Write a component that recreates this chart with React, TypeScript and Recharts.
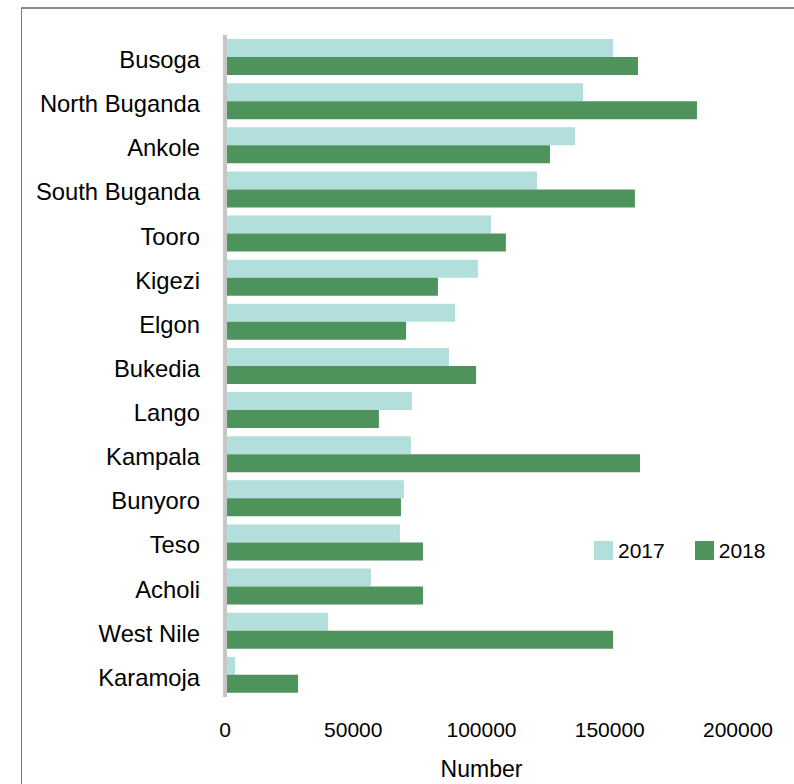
import React from 'react';
import { BarChart, Bar, XAxis, YAxis, Legend } from 'recharts';

const regions = [
  'Busoga', 'North Buganda', 'Ankole', 'South Buganda', 'Tooro', 'Kigezi', 'Elgon', 'Bukedia',
  'Lango', 'Kampala', 'Bunyoro', 'Teso', 'Acholi', 'West Nile', 'Karamoja',
];
const values2017 = [
  151300, 139600, 136500, 121600, 103700, 98600, 89700, 87300,
  72900, 72500, 69800, 68200, 56900, 40200, 3900,
];
const values2018 = [
  161000, 184000, 126700, 159800, 109500, 83000, 70600, 97900,
  60000, 161800, 68600, 77200, 77200, 151300, 28500,
];
const xTicks = [0, 50000, 100000, 150000, 200000];

const data = regions.map((region, i) => ({
  region,
  y2017: values2017[i],
  y2018: values2018[i],
}));

const font = 'Liberation Sans, Arial, sans-serif';

const RegionTick = (props: any) => {
  const { x, y, payload } = props;
  return (
    <text x={x} y={y + 2.5} dy="0.355em" textAnchor="end" fontSize={23.8} fill="#000" fontFamily={font}>
      {payload.value}
    </text>
  );
};

const renderLegend = (props: any) => {
  const { payload } = props;
  return (
    <div style={{ display: 'flex', alignItems: 'center', height: 19 }}>
      {payload.map((p: any, i: number) => (
        <div key={p.value} style={{ display: 'flex', alignItems: 'center', marginRight: i === 0 ? 30 : 0 }}>
          <span style={{ display: 'inline-block', width: 19, height: 19, background: p.color, marginRight: 5 }} />
          <span style={{ fontSize: 21, color: '#000', fontFamily: font }}>{p.value}</span>
        </div>
      ))}
    </div>
  );
};

const App: React.FC = () => {
  return (
    <div style={{ position: 'absolute', left: 0, top: 0, width: 794, height: 784, background: '#fff', overflow: 'hidden' }}>
      <div
        style={{
          position: 'absolute', left: 21, top: 7, width: 900, height: 900,
          borderLeft: '1px solid #7a7a7a', borderTop: '2px solid #8c8c8c',
        }}
      />
      <div style={{ position: 'absolute', left: 0, top: 0 }}>
        <BarChart
          width={794}
          height={784}
          data={data}
          layout="vertical"
          margin={{ top: 35, right: 56, left: 0, bottom: 0 }}
          barGap={0}
          style={{ fontFamily: font }}
        >
          <XAxis
            type="number"
            domain={[0, 200000]}
            ticks={xTicks}
            axisLine={false}
            tickLine={false}
            tickSize={0}
            tickMargin={25}
            height={87}
            tick={{ fill: '#000', fontSize: 21 }}
            label={{ value: 'Number', position: 'insideBottom', offset: 7, fill: '#000', fontSize: 23 }}
          />
          <Bar dataKey="y2017" name="2017" fill="#b2dfdb" barSize={18} isAnimationActive={false} />
          <Bar dataKey="y2018" name="2018" fill="#4f935c" barSize={18} isAnimationActive={false} />
          <YAxis
            type="category"
            dataKey="region"
            width={225}
            interval={0}
            tickLine={false}
            tickSize={0}
            tickMargin={25}
            axisLine={{ stroke: '#c6c6c6', strokeWidth: 4 }}
            tick={RegionTick}
          />
          <Legend
            layout="horizontal"
            verticalAlign="middle"
            align="center"
            content={renderLegend}
            wrapperStyle={{ left: 594, top: 541, width: 200, height: 19 }}
          />
        </BarChart>
      </div>
    </div>
  );
};

export default App;
